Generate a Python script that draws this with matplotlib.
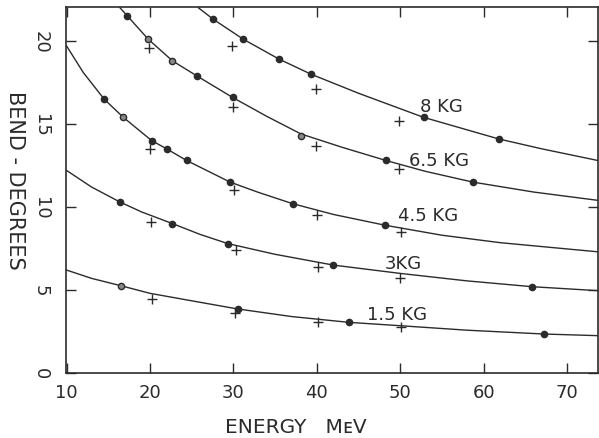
import matplotlib
matplotlib.use("Agg")
import matplotlib.pyplot as plt

# fitted curves (energy MeV, bend degrees)
curve_8_x = [25.8, 27.6, 31.2, 35.5, 39.3, 45.0, 52.8, 61.8, 67.0, 73.7]
curve_8_y = [22.0, 21.3, 20.1, 18.9, 18.0, 16.85, 15.4, 14.1, 13.5, 12.8]
curve_65_x = [16.4, 17.3, 19.8, 22.7, 25.6, 29.9, 34.0, 38.1, 43.0, 48.3, 53.0, 58.7, 66.0, 73.7]
curve_65_y = [22.0, 21.5, 20.1, 18.8, 17.9, 16.6, 15.46, 14.4, 13.6, 12.8, 12.15, 11.5, 10.9, 10.4]
curve_45_x = [10.0, 12.0, 14.5, 16.8, 20.2, 22.0, 24.4, 29.6, 33.0, 37.1, 42.0, 48.2, 55.0, 62.0, 73.7]
curve_45_y = [19.7, 18.1, 16.5, 15.4, 14.0, 13.5, 12.8, 11.5, 10.88, 10.2, 9.55, 8.9, 8.3, 7.85, 7.3]
curve_3_x = [10.0, 13.0, 16.4, 19.0, 22.7, 26.0, 29.3, 35.0, 42.0, 50.0, 58.0, 65.8, 73.7]
curve_3_y = [12.2, 11.2, 10.3, 9.7, 9.0, 8.35, 7.8, 7.15, 6.5, 6.0, 5.55, 5.2, 4.96]
curve_15_x = [10.0, 13.0, 16.5, 20.0, 25.0, 30.5, 37.0, 43.9, 50.0, 58.0, 67.2, 73.7]
curve_15_y = [6.2, 5.7, 5.26, 4.8, 4.35, 3.86, 3.4, 3.05, 2.85, 2.58, 2.35, 2.25]

# measured points: filled dots, open circles, crosses
dots_x = [27.6, 31.2, 35.5, 39.3, 52.8, 61.8,
          17.3, 25.6, 29.9, 48.3, 58.7,
          14.5, 20.2, 22.0, 24.4, 29.6, 37.1, 48.2,
          16.4, 22.7, 29.3, 42.0, 65.8,
          30.5, 43.9, 67.2]
dots_y = [21.3, 20.1, 18.9, 18.0, 15.4, 14.1,
          21.5, 17.9, 16.6, 12.8, 11.5,
          16.5, 14.0, 13.5, 12.8, 11.5, 10.2, 8.9,
          10.3, 9.0, 7.8, 6.5, 5.2,
          3.86, 3.05, 2.35]
open_x = [19.8, 22.7, 38.1, 16.8, 16.5]
open_y = [20.1, 18.8, 14.26, 15.4, 5.26]
cross_x = [29.8, 39.9, 49.8,
           19.9, 29.9, 39.9, 49.9,
           20.0, 30.1, 40.0, 50.1,
           20.1, 30.3, 40.1, 50.0,
           20.3, 30.2, 40.2, 50.1]
cross_y = [19.7, 17.1, 15.2,
           19.6, 16.0, 13.7, 12.3,
           13.5, 11.0, 9.5, 8.5,
           9.1, 7.4, 6.4, 5.7,
           4.46, 3.6, 3.1, 2.8]

labels = ["8 KG", "6.5 KG", "4.5 KG", "3KG", "1.5 KG"]
label_x = [52.4, 51.1, 49.7, 48.2, 46.0]
label_y = [16.1, 12.8, 9.5, 6.6, 3.55]

xticks = [10, 20, 30, 40, 50, 60, 70]
yticks = [0, 5, 10, 15, 20]

ink = "#2b2b2b"

fig = plt.figure(figsize=(5.99, 4.39), dpi=100)
ax = fig.add_axes([0.111, 0.148, 0.8865, 0.834])

for cx, cy in [(curve_8_x, curve_8_y), (curve_65_x, curve_65_y), (curve_45_x, curve_45_y),
               (curve_3_x, curve_3_y), (curve_15_x, curve_15_y)]:
    ax.plot(cx, cy, color=ink, lw=1.0)

ax.plot(dots_x, dots_y, 'o', color=ink, ms=4.5, mec=ink)
ax.plot(open_x, open_y, 'o', color="#888888", ms=4.5, mec=ink, mew=1.0)
ax.plot(cross_x, cross_y, '+', color=ink, ms=7.5, mew=1.0)

for t, lx, ly in zip(labels, label_x, label_y):
    ax.text(lx, ly, t, ha='left', va='center', fontsize=13, color=ink)

ax.set_xlim(9.99, 73.66)
ax.set_ylim(0, 22.05)
ax.set_xticks(xticks)
ax.set_yticks(yticks)
ax.set_xticklabels([str(v) for v in xticks], fontsize=13, color=ink)
ax.set_yticklabels([str(v) for v in yticks], fontsize=13, color=ink,
                   rotation=-90, va='center')
ax.tick_params(direction='in', length=7, width=1.0, color=ink,
               top=True, right=True, pad=7)
ax.tick_params(axis='y', pad=12)
for s in ax.spines.values():
    s.set_color(ink)
    s.set_linewidth(1.2)

fig.text(0.025, 0.59, "BEND - DEGREES", rotation=-90, ha='center', va='center',
         fontsize=15, color=ink)
fig.text(0.494, 0.027, "ENERGY   MᴇV", ha='center', va='center', fontsize=14.5, color=ink)

fig.savefig("out.png", dpi=100)
